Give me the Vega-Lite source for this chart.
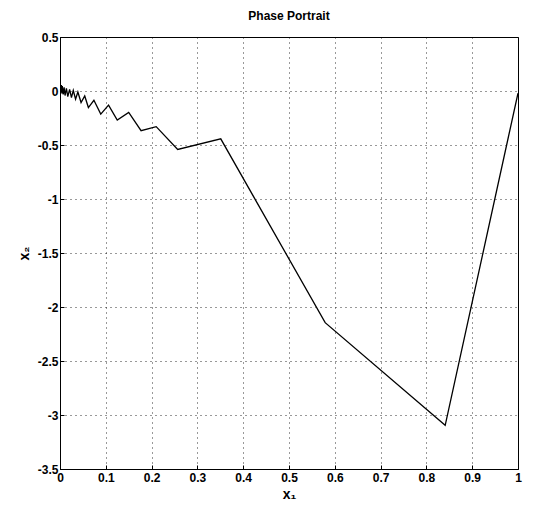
{
  "$schema": "https://vega.github.io/schema/vega-lite/v6.json",
  "autosize": "none",
  "width": 458,
  "height": 432,
  "padding": {"left": 60, "top": 37, "right": 40, "bottom": 52},
  "background": "white",
  "title": {"text": "Phase Portrait", "font": "Liberation Sans", "fontSize": 12, "fontWeight": "bold", "color": "black", "offset": 8},
  "config": {
    "view": {"stroke": "black", "strokeWidth": 1},
    "axis": {
      "labelFont": "Liberation Sans", "labelFontSize": 12, "labelFontWeight": "bold", "labelColor": "black",
      "titleFont": "Liberation Sans", "titleFontSize": 14, "titleFontWeight": "bold", "titleColor": "black",
      "domainColor": "black", "tickColor": "black", "tickSize": -4,
      "gridColor": "black", "gridDash": [1, 4], "gridOpacity": 0.8, "gridWidth": 1,
      "labelExpr": "replace(datum.label, '\u2212', '-')"
    }
  },
  "data": {
    "values": [
      {"t": 0, "x1": 1.0, "x2": -0.02},
      {"t": 1, "x1": 0.841, "x2": -3.096},
      {"t": 2, "x1": 0.579, "x2": -2.145},
      {"t": 3, "x1": 0.351, "x2": -0.443},
      {"t": 4, "x1": 0.257, "x2": -0.541},
      {"t": 5, "x1": 0.210, "x2": -0.330},
      {"t": 6, "x1": 0.177, "x2": -0.367},
      {"t": 7, "x1": 0.150, "x2": -0.199},
      {"t": 8, "x1": 0.125, "x2": -0.269},
      {"t": 9, "x1": 0.106, "x2": -0.131},
      {"t": 10, "x1": 0.089, "x2": -0.214},
      {"t": 11, "x1": 0.074, "x2": -0.086},
      {"t": 12, "x1": 0.062, "x2": -0.153},
      {"t": 13, "x1": 0.054, "x2": -0.046},
      {"t": 14, "x1": 0.046, "x2": -0.107},
      {"t": 15, "x1": 0.039, "x2": -0.009},
      {"t": 16, "x1": 0.034, "x2": -0.075},
      {"t": 17, "x1": 0.029, "x2": 0.005},
      {"t": 18, "x1": 0.025, "x2": -0.062},
      {"t": 19, "x1": 0.021, "x2": 0.015},
      {"t": 20, "x1": 0.017, "x2": -0.052},
      {"t": 21, "x1": 0.014, "x2": 0.025},
      {"t": 22, "x1": 0.011, "x2": -0.042},
      {"t": 23, "x1": 0.009, "x2": 0.035},
      {"t": 24, "x1": 0.007, "x2": -0.032},
      {"t": 25, "x1": 0.005, "x2": 0.045},
      {"t": 26, "x1": 0.004, "x2": -0.022},
      {"t": 27, "x1": 0.003, "x2": 0.055},
      {"t": 28, "x1": 0.002, "x2": -0.012},
      {"t": 29, "x1": 0.001, "x2": 0.04},
      {"t": 30, "x1": 0.0005, "x2": -0.005},
      {"t": 31, "x1": 0.0, "x2": 0.0}
    ]
  },
  "mark": {"type": "line", "color": "black", "strokeWidth": 1.3, "clip": true},
  "encoding": {
    "order": {"field": "t", "type": "quantitative"},
    "x": {
      "field": "x1", "type": "quantitative",
      "scale": {"domain": [0, 1], "nice": false, "zero": false},
      "axis": {"values": [0, 0.1, 0.2, 0.3, 0.4, 0.5, 0.6, 0.7, 0.8, 0.9, 1], "format": "~g", "title": "x₁", "labelPadding": 7, "titlePadding": 4, "labelFlush": false}
    },
    "y": {
      "field": "x2", "type": "quantitative",
      "scale": {"domain": [-3.5, 0.5], "nice": false, "zero": false},
      "axis": {"values": [-3.5, -3, -2.5, -2, -1.5, -1, -0.5, 0, 0.5], "format": "~g", "title": "x₂", "labelPadding": 6, "titlePadding": 6, "labelFlush": false}
    }
  }
}
